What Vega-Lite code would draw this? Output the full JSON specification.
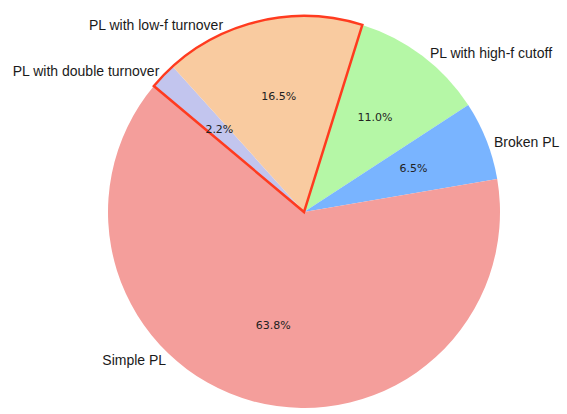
{
  "$schema": "https://vega.github.io/schema/vega-lite/v6.json",
  "autosize": "none",
  "width": 526,
  "height": 404,
  "padding": {"left": 41, "top": 10, "right": 0, "bottom": 0},
  "background": "white",
  "view": {"stroke": null},
  "data": {
    "values": [
      {"label": "PL with double turnover", "share": 0.022, "idx": 1, "outlined": true},
      {"label": "PL with low-f turnover", "share": 0.165, "idx": 2, "outlined": true},
      {"label": "PL with high-f cutoff", "share": 0.110, "idx": 3, "outlined": false},
      {"label": "Broken PL", "share": 0.065, "idx": 4, "outlined": false},
      {"label": "Simple PL", "share": 0.638, "idx": 5, "outlined": false}
    ]
  },
  "encoding": {
    "theta": {"field": "share", "type": "quantitative", "stack": true, "scale": {"range": [-0.8727, 5.4105]}},
    "order": {"field": "idx", "type": "quantitative"}
  },
  "layer": [
    {
      "mark": {"type": "arc", "outerRadius": 196},
      "encoding": {
        "color": {
          "field": "label", "type": "nominal", "legend": null,
          "scale": {
            "domain": ["PL with double turnover", "PL with low-f turnover", "PL with high-f cutoff", "Broken PL", "Simple PL"],
            "range": ["#c2c5ee", "#f9cba0", "#b5f7a6", "#79b4ff", "#f49e9b"]
          }
        }
      }
    },
    {
      "transform": [
        {"aggregate": [{"op": "sum", "field": "share", "as": "share"}, {"op": "min", "field": "idx", "as": "idx"}], "groupby": ["outlined"]}
      ],
      "mark": {"type": "arc", "outerRadius": 196, "fillOpacity": 0, "stroke": "#ff3b1f", "strokeWidth": 2.5, "strokeJoin": "miter"},
      "encoding": {
        "strokeOpacity": {"condition": {"test": "datum.outlined === true", "value": 1}, "value": 0}
      }
    },
    {
      "mark": {"type": "text", "radius": 117.6, "font": "DejaVu Sans", "fontSize": 11, "fill": "#222222", "align": "center", "baseline": "middle"},
      "encoding": {"text": {"field": "share", "type": "quantitative", "format": ".1%"}}
    },
    {
      "mark": {"type": "text", "radius": 202, "thetaOffset": 0.025, "font": "Liberation Sans", "fontSize": 14, "fill": "#1a1a1a", "align": "left", "baseline": "middle"},
      "encoding": {"text": {"condition": {"test": "datum.label === 'Broken PL' || datum.label === 'PL with high-f cutoff'", "field": "label"}, "value": ""}}
    },
    {
      "mark": {"type": "text", "radius": 201, "font": "Liberation Sans", "fontSize": 14, "fill": "#1a1a1a", "align": "right", "baseline": "middle"},
      "encoding": {"text": {"condition": {"test": "datum.label === 'PL with double turnover'", "field": "label"}, "value": ""}}
    },
    {
      "mark": {"type": "text", "radius": 203, "thetaOffset": -0.194, "font": "Liberation Sans", "fontSize": 14, "fill": "#1a1a1a", "align": "right", "baseline": "middle"},
      "encoding": {"text": {"condition": {"test": "datum.label === 'PL with low-f turnover'", "field": "label"}, "value": ""}}
    },
    {
      "mark": {"type": "text", "radius": 203, "thetaOffset": 0.482, "font": "Liberation Sans", "fontSize": 14, "fill": "#1a1a1a", "align": "right", "baseline": "middle"},
      "encoding": {"text": {"condition": {"test": "datum.label === 'Simple PL'", "field": "label"}, "value": ""}}
    }
  ]
}
